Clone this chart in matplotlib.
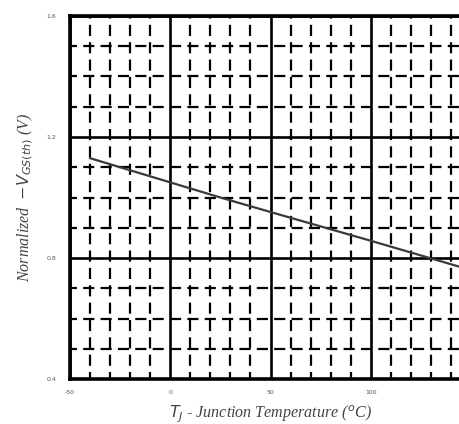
import matplotlib
matplotlib.use("Agg")
import matplotlib.pyplot as plt
from matplotlib.ticker import MultipleLocator

# threshold voltage vs junction temperature
temp_c = [-40, 0, 25, 50, 100, 150]
vth_norm = [1.13, 1.05, 1.00, 0.952, 0.857, 0.76]

# the 150 tick falls outside the cropped picture, so it has no label
x_ticks = [-50, 0, 50, 100]
x_labels = ["-50", "0", "50", "100"]
y_ticks = [0.4, 0.8, 1.2, 1.6]
y_labels = ["0.4", "0.8", "1.2", "1.6"]


def main():
    plt.rcParams["lines.scale_dashes"] = False
    fig = plt.figure(figsize=(4.6, 4.24), dpi=100)
    # axes run past the right edge, the original scan is cropped there
    ax = fig.add_axes([70 / 460, 1 - 379 / 424, 401 / 460, 363 / 424])

    ax.plot(temp_c, vth_norm, color="#3a3a3a", linewidth=1.6, zorder=5)

    ax.set_xlim(-50, 150)
    ax.set_ylim(0.4, 1.6)
    ax.set_xticks(x_ticks)
    ax.set_xticklabels(x_labels)
    ax.set_yticks(y_ticks)
    ax.set_yticklabels(y_labels)
    ax.xaxis.set_minor_locator(MultipleLocator(10))
    ax.yaxis.set_minor_locator(MultipleLocator(0.1))

    ax.grid(which="major", color="black", linewidth=1.9, linestyle="-")
    ax.grid(which="minor", color="black", linewidth=1.6,
            linestyle=(3, (8.0, 4.5)))
    ax.set_axisbelow(True)

    for sp in ax.spines.values():
        sp.set_linewidth(2.6)
        sp.set_color("black")

    ax.tick_params(which="both", length=0)
    ax.tick_params(axis="x", pad=8, labelsize=4.5, labelcolor="#555555")
    ax.tick_params(axis="y", pad=10, labelsize=4.5, labelcolor="#555555")

    font = {"family": "Liberation Serif", "style": "italic", "color": "#444444"}
    ax.set_xlabel(r"$T_J$ - Junction Temperature ($^o$C)", fontsize=11.5,
                  labelpad=6, fontdict=font)
    ax.set_ylabel(r"Normalized  $-V_{GS(th)}$ (V)", fontsize=11.5,
                  labelpad=8, fontdict=font)

    fig.savefig("out.png", dpi=100)


if __name__ == "__main__":
    main()
